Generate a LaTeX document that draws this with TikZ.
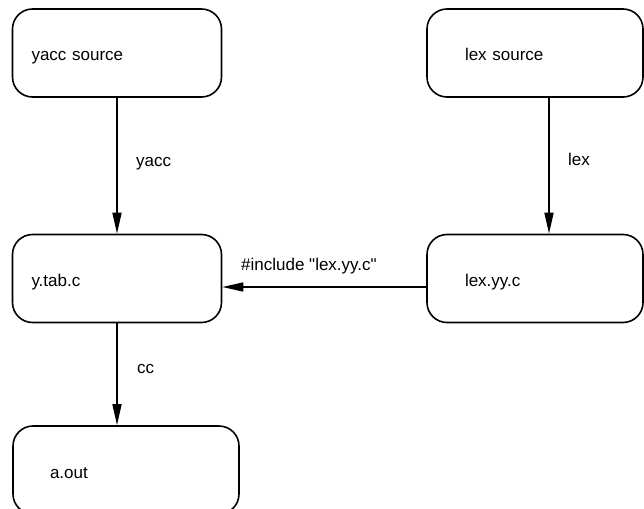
\documentclass[tikz,border=0pt]{standalone}
\usepackage{fontspec}
\setmainfont{Liberation Sans}[Ligatures=TeXOff]
\usetikzlibrary{arrows.meta}

\tikzset{
  every node/.style={font=\fontsize{17}{20}\selectfont},
  file/.style={draw, line width=1.6pt, rounded corners=20pt, minimum height=88pt,
    inner xsep=0pt, align=left, text height=20pt, text depth=4pt},
  tool/.style={anchor=base west, inner sep=0pt},
  flow/.style={-{Triangle[length=21pt,width=9pt]}, line width=1.6pt}
}

\begin{document}
\begin{tikzpicture}[x=1pt, y=-1pt]

\clip (0,0) rectangle (644,508);

%%% Files

\node (ysrc) [file, minimum width=209pt, text width=171pt] at (117,53) {yacc source};
\node (lsrc) [file, minimum width=216pt, text width=140pt] at (535,53) {lex source};

\node (ytab) [file, minimum width=209pt, text width=171pt] at (117,278.5) {y.tab.c};
\node (lyy) [file, minimum width=216pt, text width=140pt] at (535,278.5) {lex.yy.c};

\node (aout) [file, minimum width=226pt, text width=152pt] at (126,470) {a.out};

%%% Tools

\node (yacclbl) [tool] at (136,166.5) {yacc};
\node (lexlbl) [tool] at (568,165) {lex};
\node (cclbl) [tool] at (137,373.5) {cc};
\node (inclbl) [tool] at (241,270) {\#include "lex.yy.c"};

% Build steps

\draw [flow] (ysrc) -- (ytab);

\draw [flow] ([xshift=14pt]lsrc.south) -- ([xshift=14pt]lyy.north);

\draw [flow] ([yshift=-8.5pt]lyy.west) -- ([yshift=-8.5pt]ytab.east);

\draw [flow] (ytab.south) -- (ytab.south |- aout.north);

\end{tikzpicture}
\end{document}
